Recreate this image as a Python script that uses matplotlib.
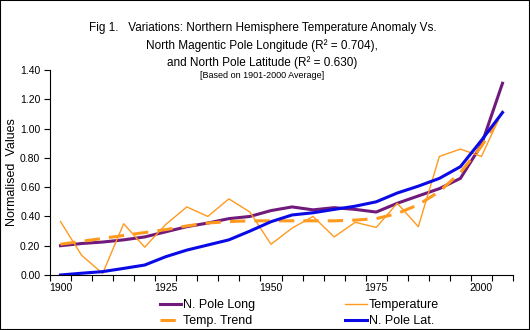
import numpy as np
import matplotlib
matplotlib.use("Agg")
import matplotlib.pyplot as plt
from matplotlib.patches import Rectangle

# Data
years = list(range(1900, 2010, 5))
pole_long = [0.20, 0.215, 0.225, 0.24, 0.26, 0.295, 0.33, 0.355, 0.385, 0.40, 0.44,
             0.465, 0.445, 0.46, 0.448, 0.43, 0.49, 0.54, 0.59, 0.66, 0.89, 1.31]
temperature = [0.365, 0.135, 0.01, 0.35, 0.19, 0.345, 0.465, 0.40, 0.52, 0.43, 0.21,
               0.32, 0.40, 0.26, 0.36, 0.325, 0.49, 0.33, 0.81, 0.86, 0.81, 1.12]
temp_trend = [0.21, 0.23, 0.25, 0.27, 0.29, 0.31, 0.335, 0.355, 0.365, 0.37, 0.37,
              0.37, 0.37, 0.37, 0.375, 0.385, 0.42, 0.48, 0.57, 0.70, 0.88, 1.11]
pole_lat = [0.0, 0.012, 0.023, 0.045, 0.068, 0.125, 0.17, 0.205, 0.24, 0.30, 0.364,
            0.41, 0.425, 0.448, 0.47, 0.50, 0.56, 0.607, 0.66, 0.74, 0.92, 1.11]
label_years = [1900, 1925, 1950, 1975, 2000]

plt.rcParams["font.family"] = ["Liberation Sans", "DejaVu Sans"]

fig = plt.figure(figsize=(5.3, 3.3), dpi=100)
ax = fig.add_axes([0.0943, 0.1667, 0.8737, 0.621])

x = np.arange(len(years))
purple = "#701a7c"
orange = "#ff9a1e"
blue = "#0a0ae6"

l1, = ax.plot(x, pole_long, color=purple, lw=2.2, label="N. Pole Long")
l2, = ax.plot(x, temperature, color=orange, lw=1.0, label="Temperature")
l3, = ax.plot(x, temp_trend, color=orange, lw=2.2, dashes=(5, 3), label="Temp. Trend")
l4, = ax.plot(x, pole_lat, color=blue, lw=2.2, label="N. Pole Lat.")

ax.set_xlim(-0.5, len(years) - 0.5)
ax.set_ylim(0, 1.4)
ax.set_yticks(np.arange(0, 1.41, 0.2))
ax.set_yticklabels([f"{v:.2f}" for v in np.arange(0, 1.41, 0.2)], fontsize=7.5)
ax.set_xticks(np.arange(-0.5, len(years)), minor=True)
ax.set_xticks([years.index(y) for y in label_years])
ax.set_xticklabels([str(y) for y in label_years], fontsize=7.5)
ax.tick_params(axis="x", which="major", length=0, pad=6)
ax.tick_params(axis="x", which="minor", length=4, direction="out", width=0.8)
ax.tick_params(axis="y", length=4, width=0.8, pad=3)
for s in ["top", "right"]:
    ax.spines[s].set_visible(False)
ax.set_ylabel("Normalised  Values", fontsize=9, labelpad=1)

fig.text(0.495, 0.905, "Fig 1.   Variations: Northern Hemisphere Temperature Anomaly Vs.",
         ha="center", fontsize=8.5)
fig.text(0.495, 0.852, "North Magentic Pole Longitude (R² = 0.704),", ha="center", fontsize=8.5)
fig.text(0.495, 0.80, "and North Pole Latitude (R² = 0.630)", ha="center", fontsize=8.5)
fig.text(0.495, 0.765, "[Based on 1901-2000 Average]", ha="center", fontsize=6.5)

fig.legend([l1, l3, l2, l4], ["N. Pole Long", "Temp. Trend", "Temperature", "N. Pole Lat."],
           ncol=2, loc="lower center", bbox_to_anchor=(0.565, -0.025), frameon=False,
           fontsize=9, handlelength=1.7, handletextpad=0.2, columnspacing=7.2,
           labelspacing=0.3)

fig.patches.append(Rectangle((0, 0), 1, 1, transform=fig.transFigure, fill=False,
                             edgecolor="black", lw=1.5))

fig.savefig("out.png", dpi=100)
